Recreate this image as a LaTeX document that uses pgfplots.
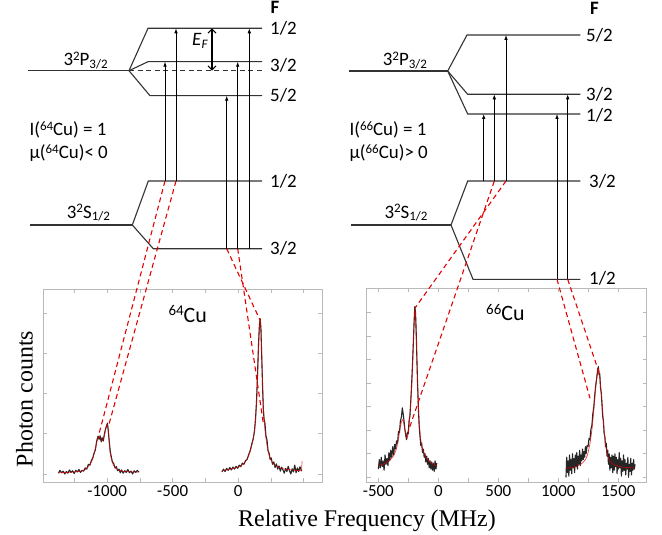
\documentclass[border=0pt]{standalone}
\usepackage{pgfplots}
\pgfplotsset{compat=1.18}
\usepackage{fontspec}
\setmainfont{Carlito}
\newfontfamily\tnr{Liberation Serif}
\usetikzlibrary{arrows.meta}

% small raised / lowered text for the level labels
\newcommand\up[1]{\raisebox{5.5bp}{\fontsize{13}{13}\selectfont #1}}
\newcommand\dn[1]{\raisebox{-2.5bp}{\fontsize{13}{13}\selectfont #1}}
\newcommand\bigup[1]{\raisebox{6.5bp}{\fontsize{15}{15}\selectfont #1}}

\pgfplotsset{
  spec/.style={
    scale only axis,
    axis line style={gray!55, line width=0.8bp},
    tick style={gray!55, line width=0.8bp},
    tick align=inside,
    major tick length=4bp,
    yticklabels={},
    ticklabel style={font=\fontsize{17}{20}\selectfont},
    axis background/.style={fill=white},
  },
  noisy/.style={black!85, line width=1.1bp, line join=round},
  fit/.style={red!90!black, line width=0.7bp, opacity=0.75, smooth},
}

\begin{document}
\begin{tikzpicture}
\useasboundingbox (0,0) rectangle (662bp,535bp);

% ---------- left spectrum: 64Cu ----------
\begin{axis}[spec,
  at={(43bp,53bp)}, anchor=south west,
  width=279bp, height=193bp,
  xmin=-1490, xmax=640, ymin=-0.2, ymax=4.6,
  xtick={-1250,-1000,...,500},
  xticklabels={{},{-1000},{},{-500},{},{0},{},{}},
  ytick={0,...,4},
]
\addplot[noisy] coordinates {
(-1372,0.02) (-1360,0.09) (-1348,0.03) (-1336,0.07) (-1324,0.00) (-1312,0.06)
(-1300,0.02) (-1288,0.10) (-1276,0.04) (-1264,0.08) (-1252,0.01) (-1240,0.09)
(-1228,0.05) (-1216,0.11) (-1204,0.04) (-1192,0.09) (-1180,0.07) (-1168,0.15)
(-1156,0.12) (-1144,0.24) (-1132,0.22) (-1120,0.34) (-1110,0.40) (-1100,0.52)
(-1090,0.60) (-1080,0.82) (-1070,0.94) (-1062,0.86) (-1054,0.95) (-1046,0.80)
(-1038,0.90) (-1030,0.82) (-1022,0.98) (-1014,1.10) (-1006,1.18) (-998,1.26)
(-992,1.08) (-984,0.80) (-976,0.55) (-968,0.42) (-960,0.30) (-950,0.26)
(-940,0.15) (-930,0.18) (-920,0.08) (-910,0.12) (-900,0.03) (-890,0.10)
(-878,0.02) (-866,0.08) (-854,0.04) (-842,0.11) (-830,0.03) (-818,0.07)
(-806,0.00) (-794,0.08) (-782,0.04) (-770,0.09) (-758,0.05)
};
\addplot[noisy] coordinates {
(-124,0.05) (-112,0.12) (-100,0.06) (-88,0.14) (-76,0.09) (-64,0.16) (-52,0.10)
(-40,0.17) (-28,0.12) (-16,0.19) (-4,0.14) (8,0.22) (20,0.18) (32,0.27) (44,0.24)
(56,0.33) (68,0.36) (80,0.48) (92,0.58) (104,0.75) (114,0.86) (124,1.05)
(132,1.35) (140,1.8) (148,2.5) (155,3.2) (162,3.7) (168,3.86) (174,3.6)
(180,2.9) (186,2.2) (192,1.6) (198,1.35) (204,1.28) (212,0.95) (220,0.85)
(228,0.58) (236,0.52) (244,0.36) (252,0.40) (262,0.24) (272,0.30) (282,0.16)
(292,0.25) (302,0.12) (312,0.20) (322,0.07) (332,0.17) (342,0.10) (352,0.02)
(362,0.14) (372,0.06) (382,0.19) (392,0.08) (402,0.00) (412,0.13) (422,0.05)
(432,0.22) (442,0.03) (452,0.15) (462,0.06) (472,0.18) (484,0.07)
};
\addplot[fit] coordinates {
(-1372,0.03) (-1300,0.04) (-1250,0.05) (-1200,0.07) (-1168,0.11) (-1140,0.2)
(-1117,0.32) (-1100,0.5) (-1085,0.72) (-1072,0.88) (-1064,0.93) (-1055,0.88)
(-1040,0.82) (-1030,0.85) (-1018,1.02) (-1006,1.2) (-998,1.22) (-990,1.05)
(-980,0.6) (-968,0.38) (-955,0.24) (-935,0.14) (-910,0.09) (-870,0.06)
(-810,0.05) (-755,0.05)
};
\addplot[fit] coordinates {
(-124,0.08) (-60,0.12) (0,0.17) (40,0.25) (70,0.38) (95,0.6) (115,0.88)
(130,1.25) (142,1.9) (152,2.8) (160,3.5) (168,3.83) (175,3.5) (182,2.7)
(190,1.9) (198,1.35) (208,1.0) (220,0.72) (235,0.48) (255,0.32) (280,0.22)
(320,0.15) (380,0.11) (440,0.09) (485,0.08)
};
\addplot[fit, sharp plot] coordinates {(485,0.08) (487,0.32)};
\end{axis}

% ---------- right spectrum: 66Cu ----------
\begin{axis}[spec,
  at={(366.7bp,53bp)}, anchor=south west,
  width=280bp, height=193.7bp,
  xmin=-597, xmax=1737, ymin=-0.2, ymax=8.03,
  xtick={-500,-250,...,1500},
  xticklabels={{-500},{},{0},{},{500},{},{1000},{},{1500}},
  ytick={0,...,7},
]
\addplot[noisy] coordinates {
(-500,0.35) (-492,0.75) (-484,0.40) (-476,0.85) (-468,0.45) (-460,0.70)
(-452,0.30) (-444,0.95) (-436,0.55) (-428,0.80) (-420,0.50) (-412,1.05)
(-404,0.70) (-396,1.15) (-388,0.85) (-380,1.30) (-372,0.95) (-364,1.40)
(-356,1.20) (-348,1.55) (-340,1.45) (-332,1.95) (-324,1.90) (-316,2.40)
(-308,2.55) (-300,2.95) (-293,2.70) (-286,2.40) (-279,2.05) (-272,1.80)
(-265,1.60) (-258,1.90) (-251,1.85) (-244,2.40) (-237,2.60) (-230,3.20)
(-223,3.90) (-216,4.70) (-209,5.60) (-202,6.60) (-196,7.25) (-190,7.00)
(-184,6.10) (-178,4.90) (-172,3.80) (-166,2.90) (-160,2.20) (-153,1.75)
(-146,1.35) (-139,1.45) (-132,1.05) (-125,1.20) (-118,0.85) (-111,1.00)
(-104,0.65) (-97,0.90) (-90,0.55) (-83,0.80) (-76,0.40) (-69,0.70)
(-62,0.35) (-55,0.65) (-48,0.30) (-41,0.60) (-34,0.25) (-27,0.70)
(-20,0.35) (-13,0.60)
};
\addplot[noisy] coordinates {
(1064,0.00) (1070,0.85) (1076,0.20) (1082,0.70) (1088,0.05) (1094,0.95)
(1100,0.30) (1106,0.75) (1112,0.15) (1118,1.00) (1124,0.40) (1130,0.80)
(1136,0.20) (1142,0.95) (1148,0.45) (1154,1.05) (1160,0.35) (1166,0.90)
(1172,0.55) (1178,1.15) (1184,0.50) (1190,0.95) (1196,0.70) (1202,1.20)
(1208,0.75) (1214,1.10) (1220,0.85) (1226,1.30) (1232,1.00) (1240,1.35)
(1248,1.30) (1256,1.65) (1264,1.60) (1272,2.05) (1280,2.20) (1288,2.70)
(1296,3.00) (1304,3.50) (1312,3.90) (1320,4.20) (1328,4.55) (1334,4.70)
(1340,4.35) (1346,4.40) (1352,3.80) (1358,3.60) (1364,3.10) (1370,2.60)
(1376,2.40) (1382,1.85) (1388,1.75) (1394,1.30) (1400,1.45) (1406,0.90)
(1412,1.15) (1418,0.55) (1424,1.00) (1430,0.30) (1436,0.85) (1442,0.40)
(1448,0.95) (1454,0.20) (1460,0.90) (1466,0.30) (1472,1.00) (1478,0.45)
(1484,0.85) (1490,0.15) (1496,0.75) (1502,0.35) (1508,1.05) (1514,0.40)
(1520,0.80) (1526,0.05) (1532,0.70) (1538,0.25) (1544,0.95) (1550,0.30)
(1556,0.75) (1562,0.10) (1568,0.60) (1574,0.35) (1580,0.85) (1586,0.00)
(1592,0.55) (1598,0.25) (1604,0.80) (1610,0.10) (1616,0.60) (1622,0.30)
(1628,0.75) (1634,0.35) (1640,0.55)
};
\addplot[fit] coordinates {
(-500,0.5) (-450,0.58) (-400,0.75) (-375,0.9) (-350,1.2) (-330,1.7)
(-315,2.2) (-300,2.45) (-290,2.35) (-275,1.9) (-262,1.65) (-250,1.9)
(-236,2.7) (-222,3.9) (-210,5.5) (-200,6.8) (-194,7.15) (-188,6.7)
(-180,5.3) (-172,3.9) (-163,2.7) (-152,1.85) (-140,1.4) (-125,1.1)
(-105,0.85) (-80,0.7) (-50,0.58) (-13,0.5)
};
\addplot[fit] coordinates {
(1064,0.38) (1120,0.42) (1170,0.5) (1210,0.65) (1240,0.9) (1264,1.44)
(1282,2.1) (1300,3.1) (1315,4.0) (1333,4.6) (1350,4.0) (1366,3.1)
(1380,2.1) (1395,1.35) (1410,0.95) (1430,0.7) (1465,0.53) (1520,0.45)
(1580,0.41) (1639,0.4)
};
\end{axis}

% ---------- level schemes, drawn in picture pixel units ----------
\begin{axis}[
  at={(0,0)}, anchor=south west,
  width=662bp, height=535bp, scale only axis,
  xmin=0, xmax=662, ymin=0, ymax=535, y dir=reverse,
  hide axis, clip=false,
  lvl/.style={black!80, line width=1.1bp},
  arr/.style={black, line width=0.8bp, -{Latex[length=5bp,width=3.6bp]}},
  rd/.style={red!90!black, line width=1.1bp, dash pattern=on 5bp off 3.5bp},
]
% 64Cu levels
\addplot[lvl] coordinates {(28.3,70.7) (129,70.7)};
\addplot[lvl] coordinates {(129,70.7) (148,28.3) (262,28.3)};
\addplot[lvl] coordinates {(129,70.7) (148,61.7) (262,61.7)};
\addplot[lvl] coordinates {(129,70.7) (150,95.7) (262,95.7)};
\addplot[lvl, dash pattern=on 5bp off 3.5bp] coordinates {(129,70.7) (262,70.7)};
\addplot[lvl] coordinates {(30,225) (132.3,225)};
\addplot[lvl] coordinates {(132.3,225) (148.3,181) (262,181)};
\addplot[lvl] coordinates {(132.3,225) (153.3,248.7) (262,248.7)};
\addplot[arr] coordinates {(165,181) (165,61.7)};
\addplot[arr] coordinates {(176,181) (176,28.3)};
\addplot[arr] coordinates {(226.7,248.7) (226.7,95.7)};
\addplot[arr] coordinates {(237.7,248.7) (237.7,61.7)};
\addplot[arr] coordinates {(249.3,248.7) (249.3,28.3)};
\addplot[black, line width=1.1bp, {Straight Barb[length=4bp,width=8bp]}-{Straight Barb[length=4bp,width=8bp]}]
  coordinates {(212,28.3) (212,70.7)};
% 66Cu levels
\addplot[lvl] coordinates {(349.3,71) (447.7,71)};
\addplot[lvl] coordinates {(447.7,71) (467,35) (580.3,35)};
\addplot[lvl] coordinates {(447.7,71) (467.7,94.3) (580.3,94.3)};
\addplot[lvl] coordinates {(447.7,71) (467.7,114) (580.3,114)};
\addplot[lvl] coordinates {(351,225) (451,225)};
\addplot[lvl] coordinates {(451,225) (467.7,181) (580.3,181)};
\addplot[lvl] coordinates {(451,225) (473,279.3) (580.3,279.3)};
\addplot[arr] coordinates {(483.7,181) (483.7,114)};
\addplot[arr] coordinates {(494.3,181) (494.3,94.3)};
\addplot[arr] coordinates {(506,181) (506,35)};
\addplot[arr] coordinates {(557,279.3) (557,114)};
\addplot[arr] coordinates {(567.7,279.3) (567.7,94.3)};
% red guides from transitions to peaks
\addplot[rd] coordinates {(165,181) (98.3,436.7)};
\addplot[rd] coordinates {(176,181) (108.3,426.7)};
\addplot[rd] coordinates {(226.7,248.7) (260,320)};
\addplot[rd] coordinates {(237.7,248.7) (263.3,423.3)};
\addplot[rd] coordinates {(506,181) (415,308)};
\addplot[rd] coordinates {(494.3,181) (408,432)};
\addplot[rd] coordinates {(557,279.3) (590,398.3)};
\addplot[rd] coordinates {(567.7,279.3) (599.3,373.3)};

% labels
\begin{scope}[every node/.style={font=\fontsize{19}{22}\selectfont, inner sep=0pt}]
\node[anchor=base west] at (axis cs:270.5,13.5) {\bfseries F};
\node[anchor=west] at (axis cs:270,28.3) {1/2};
\node[anchor=west] at (axis cs:270,65.5) {3/2};
\node[anchor=west] at (axis cs:270,95.7) {5/2};
\node[anchor=west] at (axis cs:270,181) {1/2};
\node[anchor=west] at (axis cs:270,248.7) {3/2};
\node[anchor=base west] at (axis cs:63.3,65.7) {3\up{2}P\dn{3/2}};
\node[anchor=base west] at (axis cs:66.7,218) {3\up{2}S\dn{1/2}};
\node[anchor=west] at (axis cs:29.3,130) {I(\up{64}Cu) = 1};
\node[anchor=west] at (axis cs:29.3,153.3) {μ(\up{64}Cu)< 0};
\node[anchor=base west] at (axis cs:192,46) {\textit{E}\dn{\textit{F}}};
\node[anchor=base west] at (axis cs:590,15) {\bfseries F};
\node[anchor=west] at (axis cs:586,35) {5/2};
\node[anchor=west] at (axis cs:586,94.3) {3/2};
\node[anchor=west] at (axis cs:586,115) {1/2};
\node[anchor=west] at (axis cs:589,181) {3/2};
\node[anchor=west] at (axis cs:589,278.3) {1/2};
\node[anchor=base west] at (axis cs:382.7,65.7) {3\up{2}P\dn{3/2}};
\node[anchor=base west] at (axis cs:384.3,218.3) {3\up{2}S\dn{1/2}};
\node[anchor=west] at (axis cs:349.3,130) {I(\up{66}Cu) = 1};
\node[anchor=west] at (axis cs:349.3,153.3) {μ(\up{66}Cu)> 0};
\node[anchor=base west, font=\fontsize{22}{26}\selectfont] at (axis cs:168.3,322.3) {\bigup{64}Cu};
\node[anchor=base west, font=\fontsize{22}{26}\selectfont] at (axis cs:486,320.7) {\bigup{66}Cu};
\node[rotate=90, font=\tnr\fontsize{24}{28}\selectfont] at (axis cs:24.5,399) {Photon counts};
\node[anchor=base, font=\tnr\fontsize{24}{28}\selectfont] at (axis cs:367,526) {Relative Frequency (MHz)};
\end{scope}
\end{axis}
\end{tikzpicture}
\end{document}
